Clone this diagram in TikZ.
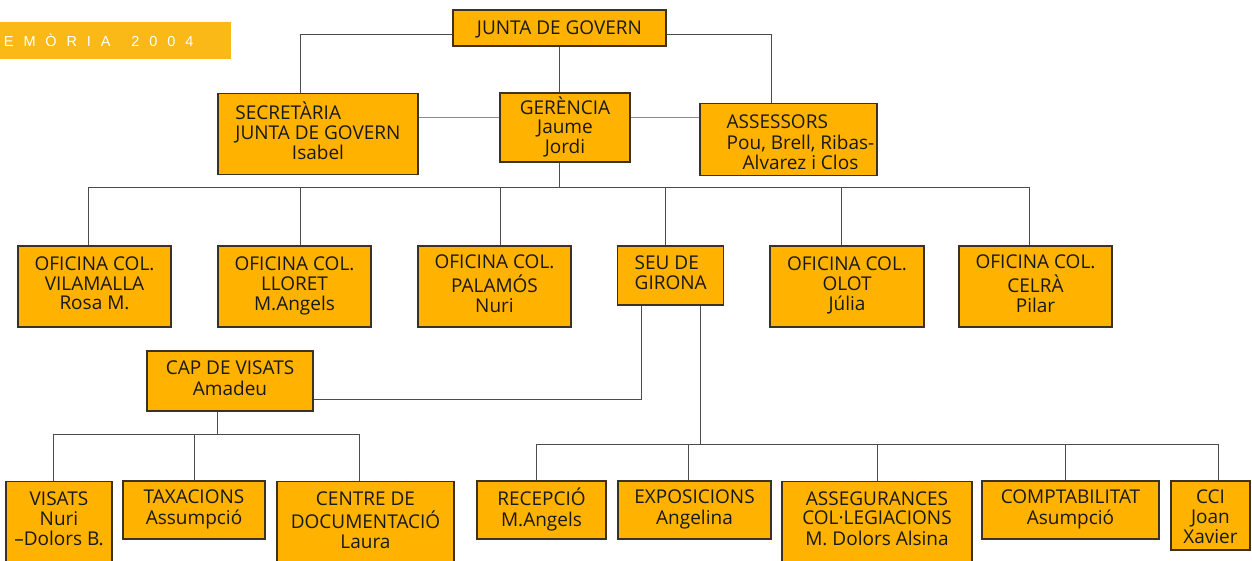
\documentclass[tikz,border=0pt]{standalone}
\usepackage{fontspec}
\setmainfont{Open Sans}
\newfontfamily\bannerfont[LetterSpace=68]{Liberation Sans}

\definecolor{boxfill}{RGB}{255,178,0}
\definecolor{bannerfill}{RGB}{251,185,24}
\definecolor{boxline}{RGB}{60,50,35}

% one cell per line, centred unless \lrow
\newcommand{\unittext}[1]{\begin{tabular}{@{}c@{}}#1\end{tabular}}
\newcommand{\lrow}[1]{\multicolumn{1}{@{}l@{}}{#1}}
\newcommand{\lowrow}[1]{\rule{0pt}{#1}}

\tikzset{
  unit/.style={draw=boxline, fill=boxfill, line width=1.1pt, inner sep=0pt,
    font=\fontsize{19}{19.5}\selectfont, text=black!90},
  cutunit/.style={unit, anchor=north, inner ysep=10pt},
  link/.style={draw=black!70, line width=0.9pt},
  banner/.style={fill=bannerfill, minimum height=37.5pt, text width=223pt,
    inner xsep=4pt, inner ysep=0pt, align=left, text=white,
    font=\bannerfont\fontsize{14.5}{16}\selectfont},
}

\begin{document}
\begin{tikzpicture}[x=1pt,y=-1pt]
    \useasboundingbox (0,0) rectangle (1252,561);

    % Banner
    \node[banner] (memoria) at (115.5,40.7) {EMÒRIA\hspace{21pt}2004};

    % Top level
    \node[unit, minimum width=213pt, minimum height=36pt] (junta) at (559.5,28) {\unittext{\lowrow{19pt}JUNTA DE GOVERN}};
    \node[unit, minimum width=200pt, minimum height=81pt] (secr) at (318,133.7) {\unittext{\lrow{SECRETÀRIA}\\\lrow{JUNTA DE GOVERN}\\Isabel}};
    \node[unit, minimum width=130pt, minimum height=69pt] (geren) at (565,127.5) {\unittext{\lowrow{19pt}GERÈNCIA\\Jaume\\Jordi}};
    \node[unit, minimum width=177pt, minimum height=69pt] (asses) at (788.5,139.5) {\hspace*{24pt}\unittext{\lrow{\lowrow{25pt}ASSESSORS}\\Pou, Brell, Ribas-\\Alvarez i Clos}};

    % Offices
    \node[unit, minimum width=153pt, minimum height=81pt] (vila) at (94.5,286.5) {\unittext{OFICINA COL.\\VILAMALLA\\Rosa M.}};
    \node[unit, minimum width=153pt, minimum height=81pt] (lloret) at (294.5,286.5) {\unittext{OFICINA COL.\\LLORET\\M.Angels}};
    \node[unit, minimum width=153pt, minimum height=81pt] (palamos) at (494.5,286.5) {\unittext{OFICINA COL.\\PALAMÓS\\Nuri}};
    \node[unit, minimum width=106pt, minimum height=59pt] (seu) at (670.7,275.5) {\unittext{\lrow{SEU DE}\\GIRONA}};
    \node[unit, minimum width=154pt, minimum height=81pt] (olot) at (847,286.5) {\unittext{OFICINA COL.\\OLOT\\Júlia}};
    \node[unit, minimum width=153pt, minimum height=81pt] (celra) at (1035.5,286.5) {\unittext{OFICINA COL.\\CELRÀ\\Pilar}};

    \node[unit, minimum width=166pt, minimum height=60pt] (cap) at (230,381) {\unittext{CAP DE VISATS\\Amadeu}};

    % Bottom row
    \node[cutunit, minimum width=106pt] (visats) at (59,481) {\unittext{VISATS\\Nuri\\–Dolors B.\\[30pt]}};
    \node[unit, minimum width=142pt, minimum height=58pt] (taxa) at (194,510) {\unittext{TAXACIONS\\Assumpció}};
    \node[cutunit, minimum width=177pt] (centre) at (365.5,481) {\unittext{CENTRE DE\\DOCUMENTACIÓ\\Laura\\[30pt]}};
    \node[unit, minimum width=129pt, minimum height=58pt] (recep) at (541.5,510) {\unittext{RECEPCIÓ\\M.Angels}};
    \node[unit, minimum width=153pt, minimum height=58pt] (expo) at (694.5,510) {\unittext{EXPOSICIONS\\Angelina}};
    \node[cutunit, minimum width=190pt] (asseg) at (877,481) {\unittext{ASSEGURANCES\\COL·LEGIACIONS\\M. Dolors Alsina\\[30pt]}};
    \node[unit, minimum width=177pt, minimum height=58pt] (compt) at (1070.5,510) {\unittext{COMPTABILITAT\\Asumpció}};
    \node[unit, minimum width=79pt, minimum height=69pt] (cci) at (1210.5,515.5) {\unittext{\lowrow{22pt}CCI\\Joan\\Xavier}};

    % Lines
    \coordinate (jl) at (300.3,34.3);
    \coordinate (jr) at (771,34.3);
    \coordinate (gl) at (565,117);
    \coordinate (hub) at (559.3,187.3);
    \draw[link] (junta.west |- jl) -- (jl) -- (secr.north -| jl);
    \draw[link] (junta.east |- jr) -- (jr) -- (asses.north -| jr);
    \draw[link] (junta.south -| hub) -- (geren.north -| hub);
    \draw[link, draw=black!45] (secr.east |- gl) -- (geren.west |- gl);
    \draw[link, draw=black!45] (geren.east |- gl) -- (asses.west |- gl);
    \draw[link] (geren.south -| hub) -- (hub);
    \foreach \x/\n in {88.3/vila,300.3/lloret,500.3/palamos,665/seu,841.3/olot,1029.3/celra}
        \draw[link] (\n.north -| \x,0) |- (hub);

    \coordinate (sl) at (641.3,399.3);
    \coordinate (hubb) at (700.3,444.7);
    \draw[link] (seu.south -| sl) -- (sl) -- (cap.east |- sl);
    \draw[link] (seu.south -| hubb) -- (hubb);
    \foreach \x/\n in {536/recep,688/expo,877/asseg,1065/compt,1218.3/cci}
        \draw[link] (\n.north -| \x,0) |- (hubb);

    \coordinate (hubc) at (217.7,434);
    \draw[link] (cap.south -| hubc) -- (hubc);
    \foreach \x/\n in {53.3/visats,194.3/taxa,359/centre}
        \draw[link] (\n.north -| \x,0) |- (hubc);
\end{tikzpicture}
\end{document}
